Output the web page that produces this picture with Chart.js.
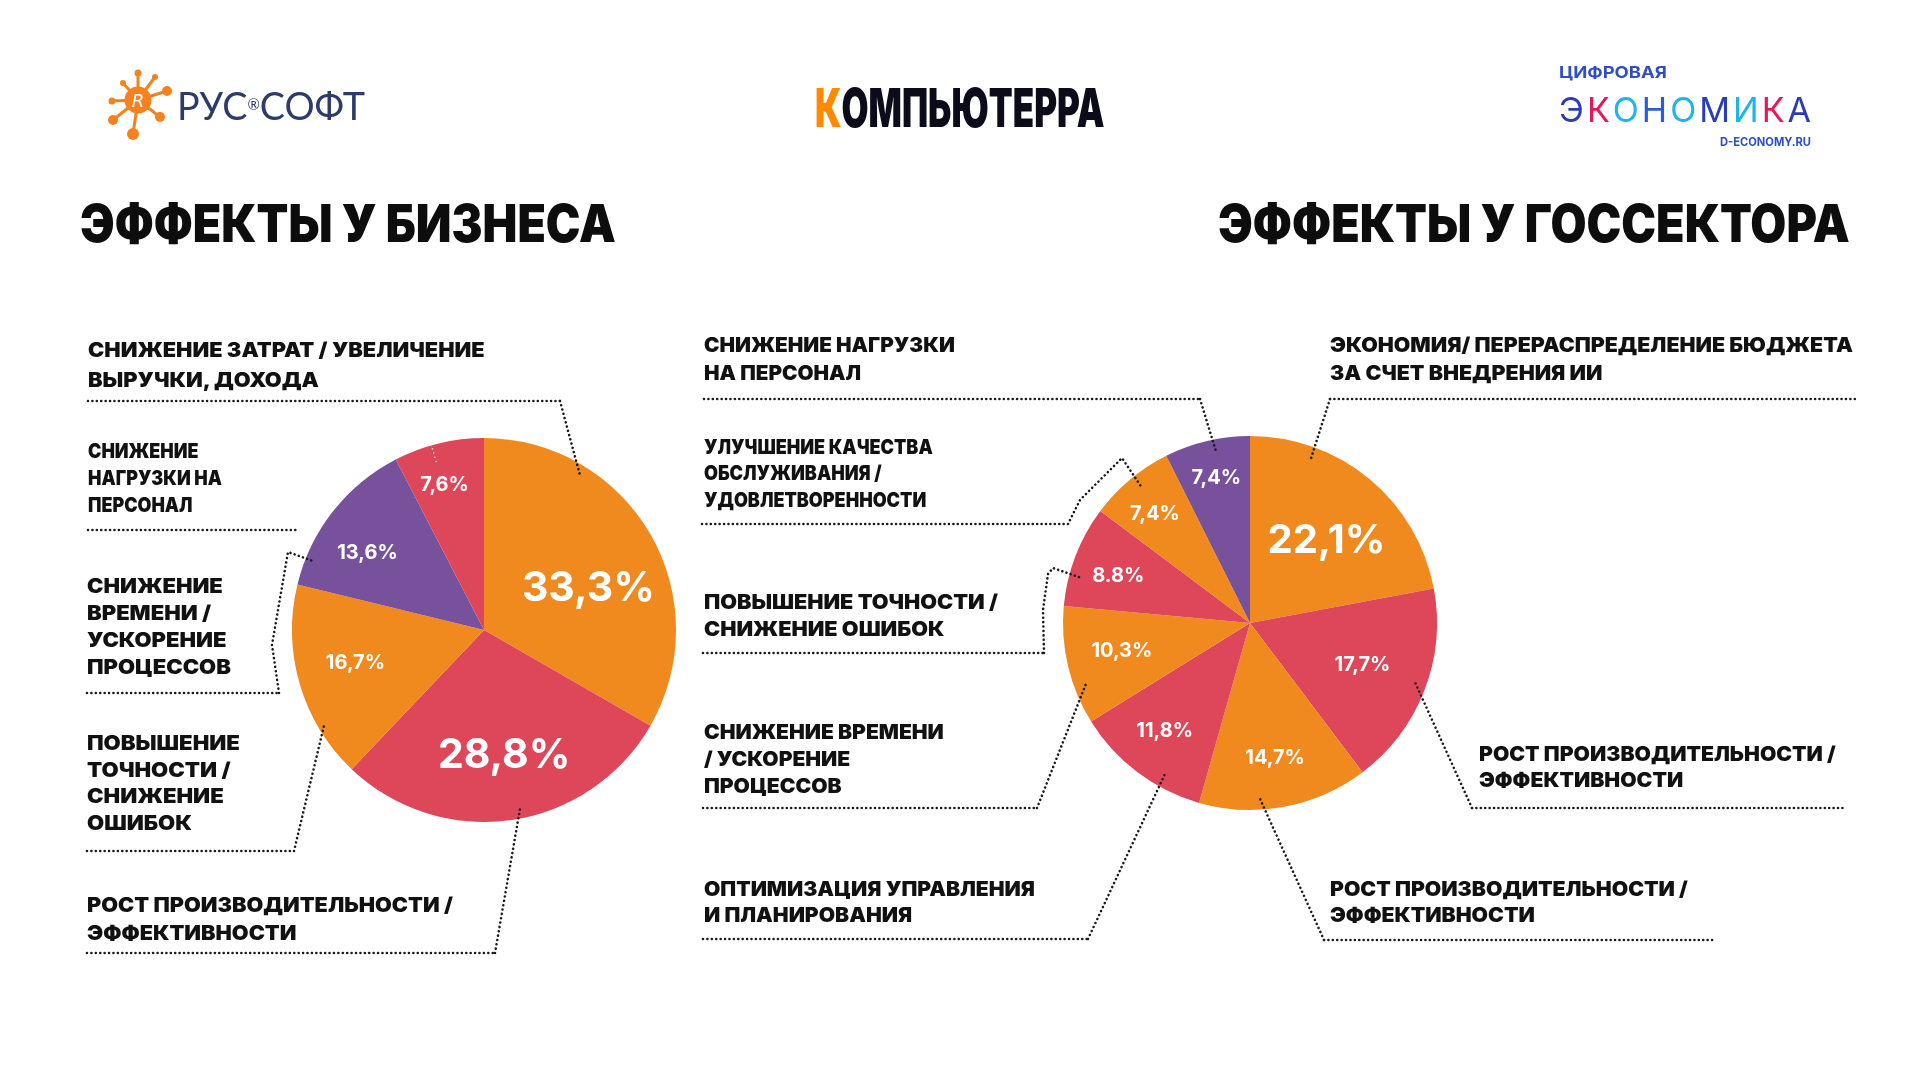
<!DOCTYPE html>
<html><head><meta charset="utf-8">
<script src="https://cdn.jsdelivr.net/npm/chart.js@4"></script>
<style>
html,body{margin:0;padding:0;background:#fff;}
#stage{position:relative;width:1920px;height:1080px;overflow:hidden;background:#fff;}
canvas{position:absolute;left:0;top:0;}
#ov{position:absolute;left:0;top:0;pointer-events:none;}
</style></head>
<body><div id="stage">
<canvas id="biz" width="1920" height="1080"></canvas>
<canvas id="gov" width="1920" height="1080"></canvas>
<svg id="ov" width="1920" height="1080" xmlns="http://www.w3.org/2000/svg"></svg>
</div>
<script>
// ---------- DATA ----------
const bizTitle = 'ЭФФЕКТЫ У БИЗНЕСА';
const bizCategories = [
  'СНИЖЕНИЕ ЗАТРАТ / УВЕЛИЧЕНИЕ\nВЫРУЧКИ, ДОХОДА',
  'РОСТ ПРОИЗВОДИТЕЛЬНОСТИ /\nЭФФЕКТИВНОСТИ',
  'ПОВЫШЕНИЕ\nТОЧНОСТИ /\nСНИЖЕНИЕ\nОШИБОК',
  'СНИЖЕНИЕ\nВРЕМЕНИ /\nУСКОРЕНИЕ\nПРОЦЕССОВ',
  'СНИЖЕНИЕ\nНАГРУЗКИ НА\nПЕРСОНАЛ'
];
const bizValues = [33.3, 28.8, 16.7, 13.6, 7.6];
const bizValueLabels = ['33,3%', '28,8%', '16,7%', '13,6%', '7,6%'];

const govTitle = 'ЭФФЕКТЫ У ГОССЕКТОРА';
const govCategories = [
  'ЭКОНОМИЯ/ ПЕРЕРАСПРЕДЕЛЕНИЕ БЮДЖЕТА\nЗА СЧЕТ ВНЕДРЕНИЯ ИИ',
  'РОСТ ПРОИЗВОДИТЕЛЬНОСТИ /\nЭФФЕКТИВНОСТИ',
  'РОСТ ПРОИЗВОДИТЕЛЬНОСТИ /\nЭФФЕКТИВНОСТИ',
  'ОПТИМИЗАЦИЯ УПРАВЛЕНИЯ\nИ ПЛАНИРОВАНИЯ',
  'СНИЖЕНИЕ ВРЕМЕНИ\n/ УСКОРЕНИЕ\nПРОЦЕССОВ',
  'ПОВЫШЕНИЕ ТОЧНОСТИ /\nСНИЖЕНИЕ ОШИБОК',
  'УЛУЧШЕНИЕ КАЧЕСТВА\nОБСЛУЖИВАНИЯ /\nУДОВЛЕТВОРЕННОСТИ',
  'СНИЖЕНИЕ НАГРУЗКИ\nНА ПЕРСОНАЛ'
];
const govValues = [22.1, 17.7, 14.7, 11.8, 10.3, 8.8, 7.4, 7.4];
const govValueLabels = ['22,1%', '17,7%', '14,7%', '11,8%', '10,3%', '8.8%', '7,4%', '7,4%'];

// ---------- STYLE / LAYOUT ----------
const ORANGE = '#F0891E', RED = '#DE4659', PURPLE = '#77519B';
const bizColors = [ORANGE, RED, ORANGE, PURPLE, RED];
const govColors = [ORANGE, RED, ORANGE, RED, ORANGE, RED, ORANGE, PURPLE];

const bizCallouts = [
  {x:88, base:[357,387], w:397, ul:[88,560,401], path:[[560,401]], tip:[0.27,0.94]},
  {x:87, base:[912,940], w:366, ul:[87,495,953], path:[[495,953]], tip:[0.47,0.95]},
  {x:87, base:[750,777,803,830], w:153, ul:[87,294,851], path:[[294,851]], tip:[0.27,0.96]},
  {x:87, base:[593,620,647,674], w:144, ul:[87,279,693], path:[[279,693],[272,645],[288,552]], tip:[0.17,0.95]},
  {x:88, base:[458,485,512], w:134, ul:[88,298,530], path:null, ghost:[0.42,1.05,0.9]}
];
const govCallouts = [
  {x:1330, base:[352,380], w:523, ul:[1330,1859,399], path:[[1330,399]], tip:[0.256,0.94]},
  {x:1479, base:[761,787], w:357, ul:[1472,1844,808], path:[[1472,808]], tip:[0.48,0.94]},
  {x:1330, base:[896,922], w:358, ul:[1324,1714,940], path:[[1324,940]], tip:[0.64,0.94]},
  {x:704, base:[896,922], w:331, ul:[703,1088,939], path:[[1088,939]], tip:[0.32,0.93]},
  {x:704, base:[739,766,793], w:240, ul:[703,1037,808], path:[[1037,808]], tip:[0.32,0.93]},
  {x:704, base:[609,636], w:294, ul:[703,1044,653], path:[[1044,653],[1043,610],[1048,574],[1053,568]], tip:[0.31,0.94]},
  {x:704, base:[454,480,507], w:229, ul:[702,1068,524], path:[[1068,524],[1080,500],[1122,458]], tip:[0.55,0.94]},
  {x:704, base:[352,380], w:251, ul:[704,1200,399], path:[[1200,399]], tip:[0.58,0.93]}
];
// [angle fraction within slice, radius fraction, font size]
const bizPctPos = [[0.56,0.59,41],[0.49,0.65,41],[0.54,0.69,20],[0.41,0.73,20],[0.45,0.79,20]];
const govPctPos = [[0.53,0.61,40],[0.48,0.64,20],[0.50,0.73,20],[0.54,0.73,20],[0.54,0.70,20],[0.47,0.75,20],[0.47,0.78,20],[0.51,0.80,20]];

// ---------- SVG helpers ----------
const SVGNS = 'http://www.w3.org/2000/svg';
const ov = document.getElementById('ov');
function el(tag, attrs, parent, text){
  const e = document.createElementNS(SVGNS, tag);
  for (const k in attrs) e.setAttribute(k, attrs[k]);
  if (text !== undefined) e.textContent = text;
  (parent || ov).appendChild(e);
  return e;
}
function textBlock(lines, x, baselines, w, style, parent){
  const g = el('g', {}, parent);
  const texts = lines.map((t,k) => el('text', Object.assign({x:0, y:baselines[k]}, style), g, t));
  const maxW = Math.max(...texts.map(t => t.getComputedTextLength()));
  const s = w / maxW;
  g.setAttribute('transform', `translate(${x},0) scale(${s},1)`);
  return g;
}
const labelStyle = {'font-family':'Inter, Lato, sans-serif','font-weight':900,'font-size':20,'fill':'#111111'};

// ---------- Chart plugin ----------
function pointOn(arc, f, rf){
  const p = arc.getProps(['x','y','startAngle','endAngle','outerRadius'], true);
  const a = p.startAngle + f * (p.endAngle - p.startAngle);
  return [p.x + Math.cos(a) * p.outerRadius * rf, p.y + Math.sin(a) * p.outerRadius * rf];
}
const calloutPlugin = {
  id: 'callouts',
  afterDatasetsDraw(chart, args, opts){
    const ctx = chart.ctx;
    const meta = chart.getDatasetMeta(0);
    ctx.save();
    ctx.lineWidth = 2.6; ctx.lineCap = 'round';
    ctx.setLineDash([0.01, 4.4]);
    opts.items.forEach((c, i) => {
      const arc = meta.data[i];
      ctx.strokeStyle = '#1a1a1a';
      ctx.beginPath(); ctx.moveTo(c.ul[0], c.ul[2]); ctx.lineTo(c.ul[1], c.ul[2]); ctx.stroke();
      if (c.path && c.tip){
        const p = pointOn(arc, c.tip[0], c.tip[1]);
        ctx.beginPath(); ctx.moveTo(c.path[0][0], c.path[0][1]);
        for (let k = 1; k < c.path.length; k++) ctx.lineTo(c.path[k][0], c.path[k][1]);
        ctx.lineTo(p[0], p[1]); ctx.stroke();
      }
      if (c.ghost){
        const a = pointOn(arc, c.ghost[0], c.ghost[1]);
        const b = pointOn(arc, c.ghost[0], c.ghost[2]);
        ctx.strokeStyle = 'rgba(255,255,255,0.75)';
        ctx.lineWidth = 1.6;
        ctx.beginPath(); ctx.moveTo(a[0], a[1]); ctx.lineTo(b[0], b[1]); ctx.stroke();
        ctx.lineWidth = 2.6;
      }
    });
    ctx.restore();
  },
  afterRender(chart, args, opts){
    const meta = chart.getDatasetMeta(0);
    let g = document.getElementById(opts.groupId);
    if (g) g.remove();
    g = el('g', {id: opts.groupId});
    meta.data.forEach((arc, i) => {
      const [f, rf, fs] = opts.pct[i];
      const p = pointOn(arc, f, rf);
      el('text', {x: p[0], y: p[1] + fs * 0.36, 'text-anchor':'middle',
        'font-family':'Inter, Lato, sans-serif', 'font-weight':700, 'font-size':fs, fill:'#ffffff'},
        g, opts.text[i]);
    });
  }
};

function makePie(id, labels, values, colors, padding, radius, callouts, pct, text){
  return new Chart(document.getElementById(id), {
    type: 'pie',
    data: { labels: labels, datasets: [{ data: values, backgroundColor: colors, borderWidth: 0, hoverOffset: 0 }] },
    options: {
      responsive: false, animation: false, events: [],
      radius: radius,
      layout: { padding: padding },
      plugins: {
        legend: { display: false }, tooltip: { enabled: false },
        callouts: { items: callouts, pct: pct, text: text, groupId: id + '-pct' }
      }
    },
    plugins: [calloutPlugin]
  });
}

makePie('biz', bizCategories, bizValues, bizColors, {left:292, right:1244, top:438, bottom:258}, 192, bizCallouts, bizPctPos, bizValueLabels);
makePie('gov', govCategories, govValues, govColors, {left:1063, right:483, top:436, bottom:270}, 187, govCallouts, govPctPos, govValueLabels);

// ---------- Category labels ----------
bizCategories.forEach((t, i) => { const c = bizCallouts[i]; textBlock(t.split('\n'), c.x, c.base, c.w, labelStyle); });
govCategories.forEach((t, i) => { const c = govCallouts[i]; textBlock(t.split('\n'), c.x, c.base, c.w, labelStyle); });

// ---------- Titles ----------
const titleStyle = {'font-family':'Inter, sans-serif','font-weight':900,'font-size':52,'fill':'#0d0d0d'};
textBlock([bizTitle], 80, [242], 536, titleStyle);
textBlock([govTitle], 1218, [242], 632, titleStyle);

// ---------- Logos ----------
// Компьютерра
(function(){
  const g = el('g', {});
  const t = el('text', {x:0, y:127, 'font-family':'Inter, sans-serif', 'font-weight':900, 'font-size':54, fill:'#0b0b19'}, g);
  el('tspan', {fill:'#FF8A00'}, t, 'К');
  el('tspan', {}, t, 'ОМПЬЮТЕРРА');
  const s = 288 / t.getComputedTextLength();
  g.setAttribute('transform', `translate(815,0) scale(${s},1)`);
})();
// Рус софт
(function(){
  const ic = el('g', {fill:'#F5821F', stroke:'#F5821F', 'stroke-width':3, 'stroke-linecap':'round'});
  const cx = 138, cy = 100;
  const blobs = [[138,73,3.5],[123,83,3],[155,77,3],[167,91,5],[112,101,3.5],[113,120,5],[160,117,5],[133,134,6]];
  blobs.forEach(b => { el('line', {x1:cx, y1:cy, x2:b[0], y2:b[1]}, ic); });
  blobs.forEach(b => { el('circle', {cx:b[0], cy:b[1], r:b[2], stroke:'none'}, ic); });
  el('circle', {cx:cx, cy:cy, r:13.5, stroke:'none'}, ic);
  el('text', {x:cx, y:cy+7, 'text-anchor':'middle', 'font-family':'DejaVu Sans, sans-serif', 'font-style':'italic', 'font-size':18, fill:'#fff', stroke:'none'}, ic, 'R');
  const g = el('g', {});
  const t = el('text', {x:0, y:120, 'font-family':'Lato, sans-serif', 'font-weight':400, 'font-size':38, fill:'#2D3B6B'}, g);
  el('tspan', {}, t, 'РУС');
  el('tspan', {'font-size':15, dy:-10}, t, '®');
  el('tspan', {dy:10}, t, 'СОФТ');
  const s = 188 / t.getComputedTextLength();
  g.setAttribute('transform', `translate(177,0) scale(${s},1)`);
})();
// Цифровая экономика
(function(){
  textBlock(['ЦИФРОВАЯ'], 1559, [78], 108, {'font-family':'Inter, sans-serif','font-weight':700,'font-size':16,'fill':'#2F4EC2'});
  const g = el('g', {});
  const t = el('text', {x:0, y:122, 'font-family':'Inter, sans-serif', 'font-weight':400, 'font-size':34, 'letter-spacing':3}, g);
  const letters = ['Э','К','О','Н','О','М','И','К','А'];
  const cols = ['#2A3DB4','#E5185A','#1DB4F0','#2C5BD8','#1DB4F0','#2A3DB4','#1DB4F0','#E5185A','#2A3DB4'];
  letters.forEach((l, k) => el('tspan', {fill: cols[k]}, t, l));
  const s = 254 / t.getComputedTextLength();
  g.setAttribute('transform', `translate(1559,0) scale(${s},1)`);
  textBlock(['D-ECONOMY.RU'], 1720, [146], 91, {'font-family':'Inter, sans-serif','font-weight':700,'font-size':12,'fill':'#2F4EC2'});
})();
</script>
</body></html>
